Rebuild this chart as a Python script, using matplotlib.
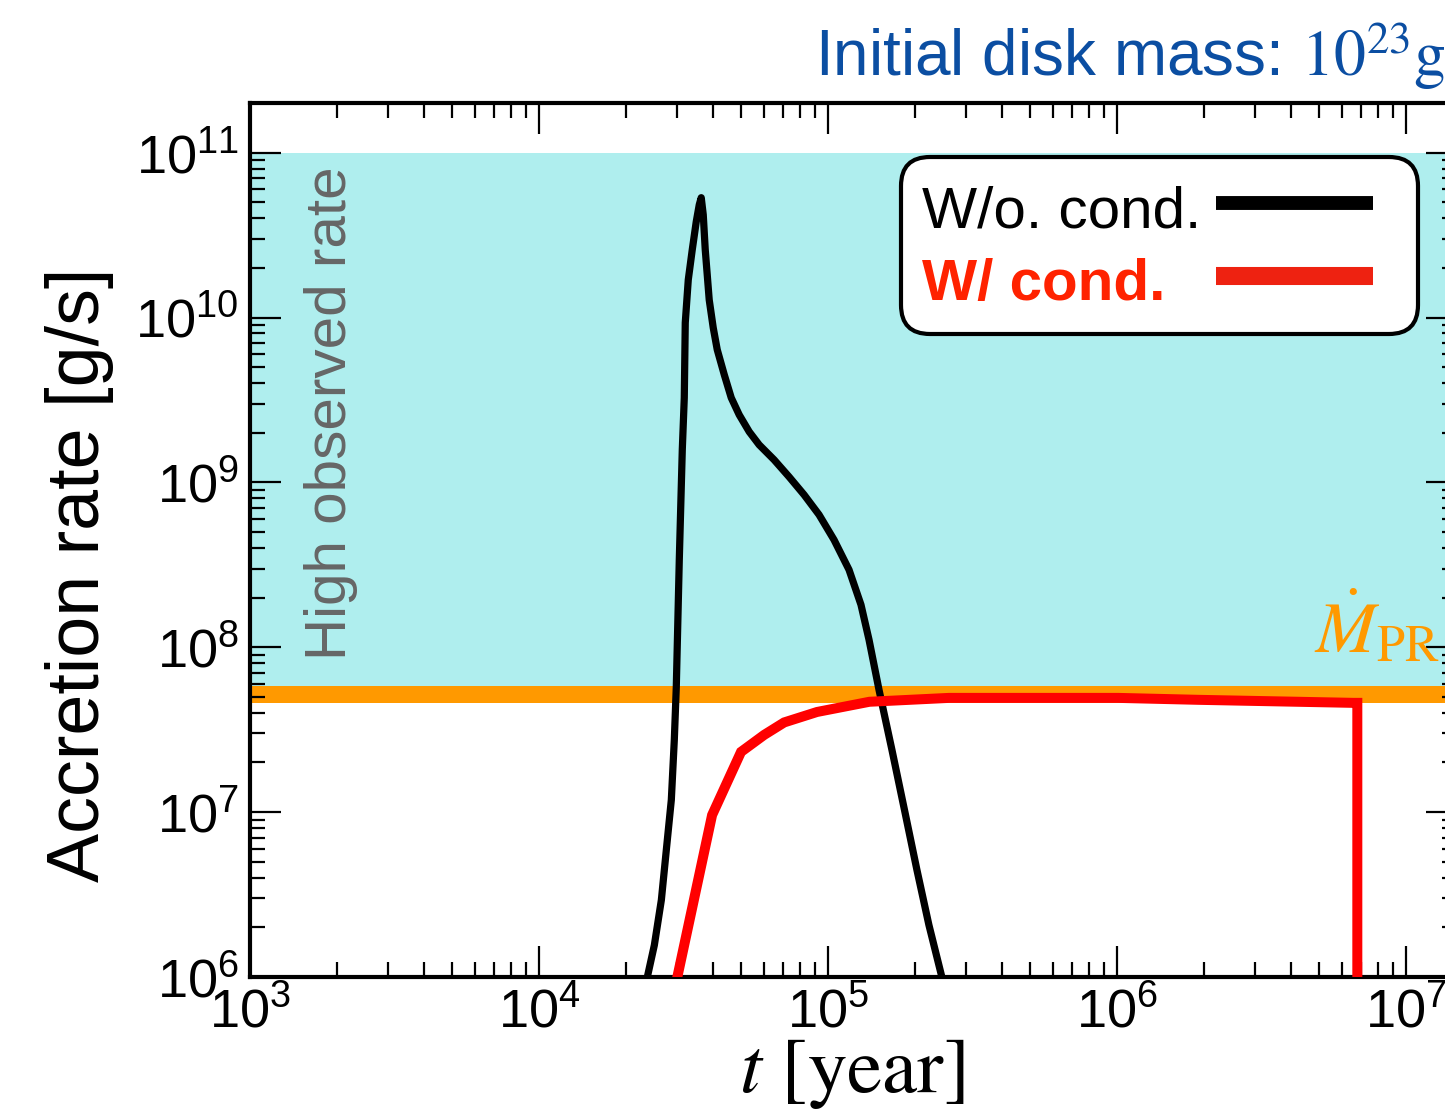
import numpy as np
import matplotlib
matplotlib.use("Agg")
import matplotlib.pyplot as plt
from matplotlib.lines import Line2D
from matplotlib.legend_handler import HandlerLine2D
from matplotlib.ticker import LogLocator, LogFormatterSciNotation, NullFormatter

plt.rcParams['font.family'] = ['Liberation Sans', 'DejaVu Sans']
plt.rcParams['mathtext.fontset'] = 'custom'
plt.rcParams['mathtext.rm'] = 'Liberation Sans'
plt.rcParams['mathtext.it'] = 'Liberation Sans:italic'
plt.rcParams['mathtext.bf'] = 'Liberation Sans:bold'

# ---- data ----
t_wo = [2.37e4, 2.506e4, 2.65e4, 2.757e4, 2.869e4, 2.938e4, 2.985e4, 3.057e4,
        3.131e4, 3.181e4, 3.206e4, 3.284e4, 3.39e4, 3.499e4, 3.584e4, 3.641e4,
        3.70e4, 3.759e4, 3.819e4, 3.88e4, 4.006e4, 4.136e4, 4.374e4, 4.624e4,
        4.927e4, 5.335e4, 5.776e4, 6.508e4, 7.333e4, 8.262e4, 9.31e4, 1.049e5,
        1.182e5, 1.30e5, 1.386e5, 1.501e5, 1.664e5, 1.845e5, 2.03e5, 2.233e5,
        2.476e5, 2.7e5]
m_wo = [1.0e6, 1.56e6, 2.93e6, 5.9e6, 1.186e7, 2.74e7, 5.75e7, 3.39e8,
        1.58e9, 3.26e9, 9.3e9, 1.695e10, 2.58e10, 3.81e10, 4.83e10, 5.33e10,
        4.2e10, 2.58e10, 1.82e10, 1.28e10, 8.67e9, 6.38e9, 4.5e9, 3.26e9,
        2.57e9, 2.03e9, 1.69e9, 1.37e9, 1.08e9, 8.41e8, 6.36e8, 4.48e8,
        2.95e8, 1.81e8, 1.11e8, 5.51e7, 2.38e7, 1.0e7, 4.46e6, 2.07e6,
        1.0e6, 6.0e5]

t_w = [3.01e4, 3.97e4, 5.0e4, 6.01e4, 7.05e4, 9.16e4, 1.39e5, 2.62e5,
       1.01e6, 1.9e6, 6.56e6, 6.78e6, 6.78e6]
m_w = [1.0e6, 9.6e6, 2.32e7, 2.94e7, 3.5e7, 4.05e7, 4.67e7, 4.93e7,
       4.93e7, 4.8e7, 4.6e7, 4.6e7, 1.0e5]

high_rate_range = [5.8e7, 1.0e11]
pr_rate_range = [4.6e7, 5.8e7]

xlim = [1e3, 1.5e7]
ylim = [1e6, 2e11]


class ShortLineHandler(HandlerLine2D):
    """Line handle that leaves some blank space on its right side."""
    def __init__(self, shrink=0.4, **kw):
        super().__init__(**kw)
        self._shrink = shrink

    def get_xdata(self, legend, xdescent, ydescent, width, height, fontsize):
        xd, xm = super().get_xdata(legend, xdescent, ydescent, width, height, fontsize)
        return [xd[0], xd[-1] - self._shrink * fontsize], xm


W, H = 1445, 1115
fig = plt.figure(figsize=(W / 100, H / 100), dpi=100)
ax = fig.add_axes([250 / W, 138 / H, 1207 / W, 874 / H])
ax.set_xscale('log')
ax.set_yscale('log')
ax.set_xlim(*xlim)
ax.set_ylim(*ylim)

ax.axhspan(high_rate_range[0], high_rate_range[1], color='#AFEEEE', lw=0, zorder=0)
ax.axhspan(pr_rate_range[0], pr_rate_range[1], color='#FF9900', lw=0, zorder=0.5)

ax.plot(t_wo, m_wo, color='black', lw=5.2, solid_joinstyle='round', zorder=3)
ax.plot(t_w, m_w, color='red', lw=7.2, solid_joinstyle='miter', zorder=3)

for s in ax.spines.values():
    s.set_linewidth(3)

ax.xaxis.set_major_locator(LogLocator(base=10, numticks=20))
ax.xaxis.set_minor_locator(LogLocator(base=10, subs=np.arange(2, 10), numticks=20))
ax.yaxis.set_major_locator(LogLocator(base=10, numticks=20))
ax.yaxis.set_minor_locator(LogLocator(base=10, subs=np.arange(2, 10), numticks=20))
ax.xaxis.set_major_formatter(LogFormatterSciNotation())
ax.yaxis.set_major_formatter(LogFormatterSciNotation())
ax.xaxis.set_minor_formatter(NullFormatter())
ax.yaxis.set_minor_formatter(NullFormatter())
ax.tick_params(which='both', direction='in', top=True, right=True, width=1.6)
ax.tick_params(which='major', length=22, labelsize=39)
ax.tick_params(which='minor', length=11)
ax.tick_params(axis='x', which='major', pad=7)
ax.tick_params(axis='y', which='major', pad=8)

# labels
fig.text(80 / W, 1 - 575 / H, 'Accretion rate [g/s]', rotation=90,
         ha='center', va='center', fontsize=53, color='black')
fig.text(852 / W, 1 - 1074 / H, r'$t$ [year]', ha='center', va='center',
         fontsize=57, family='STIXGeneral', math_fontfamily='stix')
fig.text(815 / W, 1 - 76 / H, r'Initial disk mass: $10^{23}\mathrm{g}$',
         ha='left', va='baseline', fontsize=46, color='#0B4EA2',
         math_fontfamily='stix')
fig.text(331 / W, 1 - 413 / H, 'High observed rate', rotation=90,
         ha='center', va='center', fontsize=42, color='#666666')
fig.text(1314 / W, 1 - 652 / H, r'$\dot{M}_{\rm PR}$', ha='left', va='baseline',
         fontsize=52, color='#FF9900', math_fontfamily='stix')

h_wo = Line2D([], [], color='black', lw=10, solid_capstyle='butt')
h_w = Line2D([], [], color='#EE2211', lw=13, solid_capstyle='butt')
leg = ax.legend([h_wo, h_w], ['W/o. cond.', 'W/ cond.'], loc='upper right',
                bbox_to_anchor=((1418 - 250) / 1207, (977 - 157) / 874),
                borderaxespad=0, fontsize=42, markerfirst=False,
                handlelength=3.09, handleheight=1.17, handletextpad=0.4,
                labelspacing=0.2, borderpad=0.37, framealpha=1,
                edgecolor='black', fancybox=True,
                handler_map={Line2D: ShortLineHandler(shrink=0.4)})
leg.get_frame().set_linewidth(3)
leg.get_frame().set_boxstyle('round', pad=0, rounding_size=0.5)
leg.set_zorder(5)
texts = leg.get_texts()
texts[1].set_color('#FF2200')
texts[1].set_fontweight('bold')

# left-align the labels while keeping the handles flush right
try:
    for col in leg._legend_handle_box.get_children():
        for row in col.get_children():
            row.mode = 'expand'
            row.width = 474
except Exception:
    pass

fig.savefig('out.png', dpi=100)
